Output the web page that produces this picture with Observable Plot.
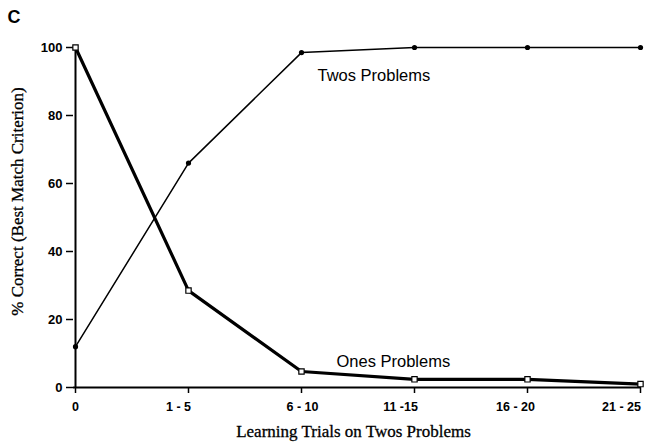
<!DOCTYPE html>
<html>
<head>
<meta charset="utf-8">
<script src="https://cdn.jsdelivr.net/npm/d3@7"></script>
<script src="https://cdn.jsdelivr.net/npm/@observablehq/plot@0.6"></script>
<style>
  html, body { margin: 0; padding: 0; background: #fff; }
  #chart svg { display: block; }
</style>
</head>
<body>
<div id="chart"></div>
<script>
const categories = ["0", "1 - 5", "6 - 10", "11 -15", "16 - 20", "21 - 25"];
const twosValues = [12, 66, 98.5, 100, 100, 100];
const onesValues = [100, 28.5, 4.7, 2.4, 2.4, 1];
const yTicks = [0, 20, 40, 60, 80, 100];
const twosLabel = {x: "6 - 10", y: 91.8, text: "Twos Problems"};
const onesLabel = {x: "6 - 10", y: 7.6, text: "Ones Problems"};
const panelLetter = "C";
const xTitle = "Learning Trials on Twos Problems";
const yTitle = "% Correct (Best Match Criterion)";
// horizontal nudges of the x tick labels (style only)
const xLabelNudge = [0, -10, 1, -14, -12, -19];

const twos = categories.map((c, i) => ({x: c, y: twosValues[i]}));
const ones = categories.map((c, i) => ({x: c, y: onesValues[i]}));

const sans = "'Liberation Sans', Arial, sans-serif";
const serif = "'Liberation Serif', 'Times New Roman', serif";

const xLabelMarks = categories.map((c, i) =>
  Plot.text([c], {x: d => d, y: 0, dy: 19, dx: xLabelNudge[i], text: d => d,
    fontSize: 12.5, fontWeight: "bold", fontFamily: sans, fill: "#000"})
);

const plot = Plot.plot({
  width: 654,
  height: 445,
  marginLeft: 73,
  marginRight: 13,
  marginTop: 47,
  marginBottom: 58,
  style: {background: "#fff", color: "#000"},
  x: {type: "point", domain: categories, padding: 0},
  y: {domain: [0, 100]},
  marks: [
    Plot.axisY({ticks: yTicks, tickSize: 7, tickPadding: 4, tickFormat: d => String(d),
      fontSize: 13, fontWeight: "bold", fontFamily: sans, strokeWidth: 1.5, label: null}),
    Plot.axisX({tickSize: 6, text: null, strokeWidth: 1.5, label: null}),
    ...xLabelMarks,
    Plot.ruleY([0], {stroke: "#000", strokeWidth: 2}),
    Plot.ruleX([categories[0]], {y1: 0, y2: 100, stroke: "#000", strokeWidth: 2}),
    Plot.line(twos, {x: "x", y: "y", stroke: "#000", strokeWidth: 1.5}),
    Plot.dot(twos, {x: "x", y: "y", r: 2.6, fill: "#000", stroke: "none"}),
    Plot.line(ones, {x: "x", y: "y", stroke: "#000", strokeWidth: 3.2}),
    Plot.dot(ones, {x: "x", y: "y", symbol: "square", r: 3, fill: "#fff", stroke: "#000", strokeWidth: 1.2}),
    Plot.text([twosLabel], {x: "x", y: "y", text: "text", dx: 16, textAnchor: "start",
      fontSize: 16.5, fontFamily: sans, fill: "#000"}),
    Plot.text([onesLabel], {x: "x", y: "y", text: "text", dx: 35, textAnchor: "start",
      fontSize: 16.5, fontFamily: sans, fill: "#000"}),
    Plot.text([panelLetter], {frameAnchor: "top-left", dx: -66, dy: -37, text: d => d,
      fontSize: 18, fontWeight: "bold", fontFamily: sans, fill: "#000", textAnchor: "start"}),
    Plot.text([xTitle], {frameAnchor: "bottom", dx: -4, dy: 49, text: d => d,
      fontSize: 17, fontFamily: serif, fill: "#000", stroke: "#000", strokeWidth: 0.3}),
    Plot.text([yTitle], {frameAnchor: "left", dx: -56, dy: -16, rotate: -90, textAnchor: "middle",
      text: d => d, fontSize: 17, fontFamily: serif, fill: "#000", stroke: "#000", strokeWidth: 0.3})
  ]
});
document.getElementById("chart").appendChild(plot);
</script>
</body>
</html>
